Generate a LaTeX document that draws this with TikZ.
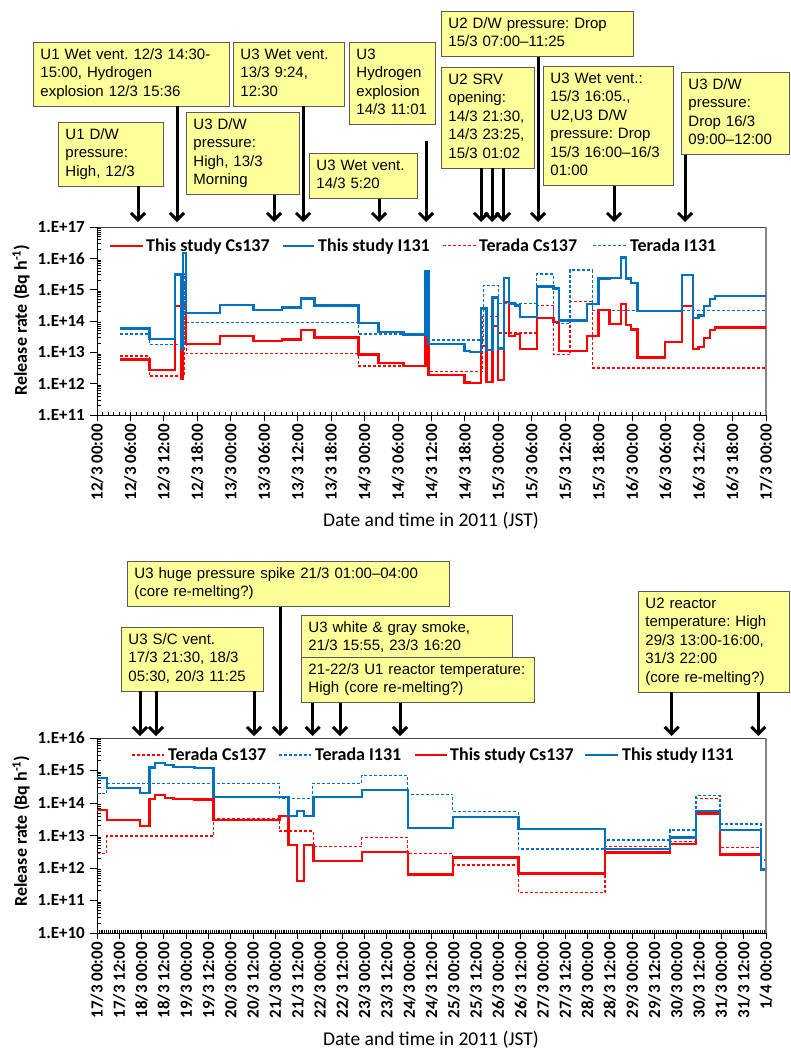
\documentclass[tikz,border=0pt]{standalone}
\usepackage{fontspec}
\setmainfont{Carlito}
\newfontfamily\notefont{Liberation Sans}
\usetikzlibrary{arrows.meta}
\frenchspacing
\definecolor{notefill}{HTML}{FFFF99}
\definecolor{noteline}{HTML}{5A5A5A}
\definecolor{csred}{HTML}{FF0000}
\definecolor{iblue}{HTML}{0070C0}
\definecolor{framegray}{HTML}{868686}
\tikzset{
  note/.style={draw=noteline, fill=notefill, line width=0.9pt, anchor=north west, align=left,
    inner xsep=7pt, inner ysep=4pt, font=\notefont\fontsize{15}{18.5}\selectfont,
    execute at begin node=\strut, execute at end node=\strut},
  event/.style={line width=3pt, -{Straight Barb[length=7pt,width=14pt]}},
  axisline/.style={black, line width=1pt},
  minortick/.style={black, line width=0.5pt},
  ticklab/.style={font=\bfseries\fontsize{17}{17}\selectfont, rotate=90, anchor=east, inner sep=0pt},
  ylab/.style={font=\bfseries\fontsize{17}{17}\selectfont, anchor=east, inner sep=0pt},
  legtext/.style={font=\bfseries\fontsize{18}{18}\selectfont, anchor=base west, inner sep=0pt},
  axtitle/.style={font=\fontsize{19.5}{19.5}\selectfont},
  ytitle/.style={font=\bfseries\fontsize{18}{18}\selectfont, rotate=90},
  csline/.style={csred, line width=2.4pt},
  iline/.style={iblue, line width=2.4pt},
  csdash/.style={csred, line width=1.2pt, dash pattern=on 3pt off 2pt},
  idash/.style={iblue, line width=1.2pt, dash pattern=on 3pt off 2pt}
}

\begin{document}
\begin{tikzpicture}[x=1pt, y=-1pt]
  \useasboundingbox (0,0) rectangle (790,1052);

  %%%%% TOP CHART: 12/3 -- 17/3 %%%%%
  \draw[black!75, line width=0.8pt] (97,227) -- (766,227);
  \draw[framegray, line width=1.2pt] (766,227) -- (766,415);
  \draw[axisline] (97,227) -- (97,415) -- (766,415);

  \foreach \i in {1,...,119}
    \draw[minortick] ({97+\i*5.575},415) -- ++(0,-3);
  \foreach \i in {0,...,20}
    \draw[axisline] ({97+\i*33.45},415) -- ++(0,6);
  \foreach \d [count=\k from 0] in {12,...,16}
    \foreach \h [count=\j from 0] in {00,06,12,18}
      \node[ticklab] (tx-\k-\j) at ({97+(4*\k+\j)*33.45},424) {\d/3 \h:00};
  \node[ticklab] (tx-end) at (766,424) {17/3 00:00};

  \foreach \k in {0,...,6} {
    \pgfmathtruncatemacro\e{11+\k}
    \draw[axisline] (97,{415-31.33*\k}) -- ++(-7,0);
    \node[ylab] (ty-\k) at (85,{415-31.33*\k}) {1.E+\e};
  }
  \foreach \k in {0,...,5}
    \foreach \m in {2,...,9}
      \draw[minortick] (97,{415-31.33*(\k+log10(\m))}) -- ++(4,0);

  \node[ytitle] (ytitle1) at (21,320) {Release rate (Bq h\textsuperscript{-1})};
  \node[axtitle] (xtitle1) at (431,521) {Date and time in 2011 (JST)};

  % legend
  \draw[csline] (110,245.7) -- (143,245.7);
  \node[legtext] (leg1) at (146,251.5) {This study Cs137};
  \draw[iline] (283,245.7) -- (314,245.7);
  \node[legtext] (leg2) at (318,251.5) {This study I131};
  \draw[csdash] (443,245.7) -- (476,245.7);
  \node[legtext] (leg3) at (479,251.5) {Terada Cs137};
  \draw[idash] (593,245.7) -- (627,245.7);
  \node[legtext] (leg4) at (630,251.5) {Terada I131};

  % release rates
  \draw[csdash] plot[const plot] coordinates {(120,356) (149.3,376) (184,285) (186.5,353.7)
    (358.3,366) (425.5,302.3) (428.5,371.7) (482,316.7) (498,333) (536.7,305.5) (553.3,354.7)
    (570,301.3) (592.7,368) (766,368)};
  \draw[idash] plot[const plot] coordinates {(120,334) (149.3,344.3) (184,274) (186.5,322.7)
    (358.3,334) (425.5,270.7) (428.5,340) (483.3,285.3) (498.3,303.3) (536.7,274) (553.3,323.3)
    (570,270) (592.7,310.7) (766,310.7)};
  \draw[csline] plot[const plot] coordinates {(120,359.3) (149.3,370) (175,305.7) (181,379)
    (182.7,305.7) (186,344) (220,336) (253.3,341) (281.7,339.3) (301,330) (314.3,337.3)
    (358.3,354.3) (378.3,362.7) (403.3,365.7) (425.5,302.5) (428.5,375) (464.3,382.5)
    (470,383) (481,346) (486.5,381.7) (492.3,326) (498,380) (504,301.7) (509,336) (515,334)
    (520,349) (536.7,317.7) (553.3,322) (559,351) (586.7,335.7) (598.3,310) (609.3,324)
    (620.7,304) (625.7,325) (631,329.3) (637.3,357.3) (665,341.7) (681.7,306) (692.7,349)
    (698.3,346.7) (704,337.7) (710,330) (715,327.3) (766,327.3)};
  \draw[iline] plot[const plot] coordinates {(120,328.3) (149.3,339) (175,274.3) (181,348.3)
    (182.7,252.7) (186,312.7) (220,305) (253.3,310) (281.7,307.3) (301,298.3) (314.3,305.3)
    (358.3,323) (378.3,331.7) (403.3,334.3) (425.5,270.7) (428.5,343.7) (464.3,350.7)
    (470,351.7) (481,308.5) (486.5,350) (492.3,297.5) (498,348.5) (504,277.7) (509,303.3)
    (515,305.5) (520,317) (536.7,286.3) (553.3,288.3) (559,320.5) (586.7,304) (598.3,278.3)
    (609.3,277.7) (620.7,257.3) (625.7,278.3) (631,282.7) (637.3,310.7) (681.7,274.7)
    (692.7,317.7) (698.3,315.3) (704,306) (710,299) (715,295.7) (766,295.7)};

  % events
  \node[note, text width=182pt] (u1wet) at (33,42) {U1 Wet vent. 12/3 14:30-\\15:00, Hydrogen\\explosion 12/3 15:36};
  \node[note, text width=97pt] (u3wet1) at (233,42) {U3 Wet vent.\\13/3 9:24,\\12:30};
  \node[note, text width=72pt] (u3h2) at (349,42) {U3\\Hydrogen\\explosion\\14/3 11:01};
  \node[note, text width=91pt] (u1dw) at (58,122) {U1 D/W\\pressure:\\High, 12/3};
  \node[note, text width=99pt] (u3dwhigh) at (186,112) {U3 D/W\\pressure:\\High, 13/3\\Morning};
  \node[note, text width=94pt] (u3wet2) at (309,153) {U3 Wet vent.\\14/3 5:20};
  \node[note, text width=178pt] (u2dw) at (441,11) {U2 D/W pressure: Drop\\15/3 07:00–11:25};
  \node[note, text width=79pt] (u2srv) at (441,67) {U2 SRV\\opening:\\14/3 21:30,\\14/3 23:25,\\15/3 01:02};
  \node[note, text width=116pt] (u3wet3) at (543,66) {U3 Wet vent.:\\15/3 16:05.,\\U2,U3 D/W\\pressure: Drop\\15/3 16:00–16/3\\01:00};
  \node[note, text width=94pt] (u3dwdrop) at (681,72) {U3 D/W\\pressure:\\Drop 16/3\\09:00–12:00};

  \coordinate (t1) at (138,222);
  \coordinate (t2) at (177,222);
  \coordinate (t3) at (274,222);
  \coordinate (t4) at (303,222);
  \coordinate (t5) at (379,222);
  \coordinate (t6) at (426,222);
  \coordinate (s6) at (426,141);
  \coordinate (t7) at (481,222);
  \coordinate (t8) at (492,222);
  \coordinate (t9) at (503,222);
  \coordinate (t10) at (538,222);
  \coordinate (t11) at (614,222);
  \coordinate (t12) at (685,222);

  \draw[event] (u1dw.south -| t1) -- (t1);
  \draw[event] (u1wet.south -| t2) -- (t2);
  \draw[event] (u3dwhigh.south -| t3) -- (t3);
  \draw[event] (u3wet1.south -| t4) -- (t4);
  \draw[event] (u3wet2.south -| t5) -- (t5);
  \draw[event] (s6) -- (t6);
  \draw[event] (u2srv.south -| t7) -- (t7);
  \draw[event] (u2srv.south -| t8) -- (t8);
  \draw[event] (u2srv.south -| t9) -- (t9);
  \draw[event] (u2dw.south -| t10) -- (t10);
  \draw[event] (u3wet3.south -| t11) -- (t11);
  \draw[event] (u3dwdrop.south -| t12) -- (t12);

  %%%%% BOTTOM CHART: 17/3 -- 1/4 %%%%%
  \draw[black!75, line width=0.8pt] (97,738) -- (766,738);
  \draw[framegray, line width=1.2pt] (766,738) -- (766,933);
  \draw[axisline] (97,738) -- (97,933) -- (766,933);

  \foreach \i in {1,...,359}
    \draw[minortick, line width=0.4pt] ({97+\i*1.858},933) -- ++(0,-3.5);
  \foreach \i in {0,...,30}
    \draw[axisline] ({97+\i*22.3},933) -- ++(0,6);
  \foreach \d [count=\k from 0] in {17,...,31}
    \foreach \h [count=\j from 0] in {00,12}
      \node[ticklab] (bx-\k-\j) at ({97+(2*\k+\j)*22.3},942) {\d/3 \h:00};
  \node[ticklab] (bx-end) at (766,942) {1/4 00:00};

  \foreach \k in {0,...,6} {
    \pgfmathtruncatemacro\e{10+\k}
    \draw[axisline] (97,{933-32.5*\k}) -- ++(-7,0);
    \node[ylab] (by-\k) at (85,{933-32.5*\k}) {1.E+\e};
  }
  \foreach \k in {0,...,5}
    \foreach \m in {2,...,9}
      \draw[minortick] (97,{933-32.5*(\k+log10(\m))}) -- ++(4,0);

  \node[ytitle] (ytitle2) at (21,831) {Release rate (Bq h\textsuperscript{-1})};
  \node[axtitle] (xtitle2) at (431,1040) {Date and time in 2011 (JST)};

  % legend
  \draw[csdash] (132,755) -- (164,755);
  \node[legtext] (leg5) at (168,760.8) {Terada Cs137};
  \draw[idash] (279,755) -- (311,755);
  \node[legtext] (leg6) at (315,760.8) {Terada I131};
  \draw[csline] (415,755) -- (447,755);
  \node[legtext] (leg7) at (450,760.8) {This study Cs137};
  \draw[iline] (585,755) -- (618,755);
  \node[legtext] (leg8) at (622,760.8) {This study I131};

  % release rates
  \draw[csdash] plot[const plot] coordinates {(97,853.3) (106.7,836) (213.3,818.3) (279.3,831)
    (313.3,846.7) (361.7,837.7) (407.7,853.3) (452.7,865) (518.3,892.7) (605,846.7)
    (670,841.7) (696,798.3) (720,847.3) (761,870) (765,870)};
  \draw[idash] plot[const plot] coordinates {(97,793.3) (106.7,783.3) (279.3,798.3) (312.7,783.3)
    (361.7,775.7) (407.7,794.3) (452.7,811.7) (518.3,849) (605,840) (670,830) (696,795.7)
    (720,824) (761,860) (765,860)};
  \draw[csline] plot[const plot] coordinates {(97,810) (106.7,820) (140,825.7) (149.3,799)
    (155,795) (165,797.7) (173.3,799) (194.3,799.3) (213.3,820) (279.3,815.7) (288.3,845)
    (296.7,881) (304,845) (313.3,861) (361.7,851.7) (407.7,874.3) (452.7,857.3) (518.3,873.3)
    (605,852.3) (670,844) (696,813.3) (720,854.3) (761,870) (765,870)};
  \draw[iline] plot[const plot] coordinates {(97,777.7) (106.7,787.7) (140,792.7) (149.3,767.3)
    (155,762.7) (165,765) (173.3,766.7) (194.3,767.7) (213.3,797) (288.3,816) (296.7,810.7)
    (304,816) (313.3,796.7) (361.7,790) (407.7,827.7) (452.7,816.7) (518.3,829) (605,849)
    (670,837.3) (696,810.7) (720,830) (761,869.3) (765,869.3)};

  % events
  \node[note, text width=308pt] (u3spike) at (127,561) {U3 huge pressure spike 21/3 01:00–04:00\\(core re-melting?)};
  \node[note, text width=128pt] (u3sc) at (121,627) {U3 S/C vent.\\17/3 21:30, 18/3\\05:30, 20/3 11:25};
  \node[note, text width=197pt] (u3smoke) at (301,615) {U3 white \& gray smoke,\\21/3 15:55, 23/3 16:20};
  \node[note, text width=219pt] (u1temp) at (301,657) {21-22/3 U1 reactor temperature:\\High (core re-melting?)};
  \node[note, text width=137pt] (u2temp) at (638,591) {U2 reactor\\temperature: High\\29/3 13:00-16:00,\\31/3 22:00\\(core re-melting?)};

  \coordinate (b1) at (140,736);
  \coordinate (b2) at (156,736);
  \coordinate (b3) at (254,736);
  \coordinate (b4) at (280,736);
  \coordinate (b5) at (312.7,736);
  \coordinate (b6) at (340,736);
  \coordinate (b7) at (400,736);
  \coordinate (b8) at (671.7,736);
  \coordinate (b9) at (758.3,736);

  \draw[event] (u3sc.south -| b1) -- (b1);
  \draw[event] (u3sc.south -| b2) -- (b2);
  \draw[event] (u3sc.south -| b3) -- (b3);
  \draw[event] (u3spike.south -| b4) -- (b4);
  \draw[event] (u1temp.south -| b5) -- (b5);
  \draw[event] (u1temp.south -| b6) -- (b6);
  \draw[event] (u1temp.south -| b7) -- (b7);
  \draw[event] (u2temp.south -| b8) -- (b8);
  \draw[event] (u2temp.south -| b9) -- (b9);
\end{tikzpicture}
\end{document}
